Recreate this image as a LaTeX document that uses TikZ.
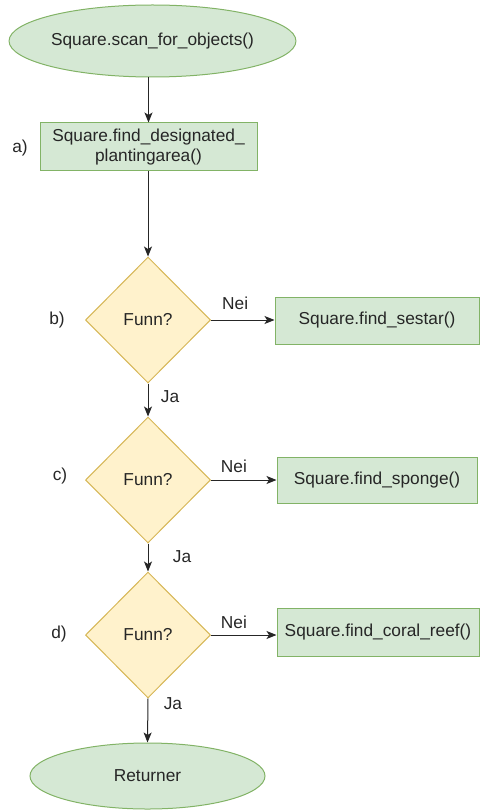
\documentclass[tikz,border=0pt]{standalone}
\usepackage{fontspec}
\setmainfont{Liberation Sans}
\usetikzlibrary{shapes.geometric,arrows.meta}
\definecolor{gfill}{HTML}{D5E8D4}
\definecolor{gdraw}{HTML}{82B366}
\definecolor{yfill}{HTML}{FFF2CC}
\definecolor{ydraw}{HTML}{D6B656}
\definecolor{txt}{HTML}{262626}
\begin{document}
\begin{tikzpicture}[x=1pt,y=-1pt,
  every node/.style={font=\fontsize{17.3}{20.5}\selectfont, text=txt, inner sep=0pt},
  term/.style={ellipse, draw=gdraw, fill=gfill, line width=1pt},
  procbox/.style={rectangle, draw=gdraw, fill=gfill, line width=1pt, align=center},
  decision/.style={diamond, draw=ydraw, fill=yfill, line width=1pt, minimum width=125pt, minimum height=126pt},
  conn/.style={draw=black!85, line width=1pt, -{Stealth[length=10pt,width=8pt,inset=2.5pt]}},
  lbl/.style={}
]
\useasboundingbox (0,0) rectangle (480,810);
\node[term, minimum width=249pt, minimum height=72pt] (start) at (152.5,41) {Square.scan\_for\_objects()};
\node[procbox, minimum width=217pt, minimum height=48pt] (a) at (148.5,147) {Square.find\_designated\_\\plantingarea()};
\node[decision] (b) at (148,320) {Funn?};
\node[procbox, minimum width=204pt, minimum height=47pt] (sestar) at (377,320.5) {Square.find\_sestar()};
\node[decision] (c) at (148,480) {Funn?};
\node[procbox, minimum width=200pt, minimum height=46pt] (sponge) at (377,480) {Square.find\_sponge()};
\node[decision] (d) at (148,635) {Funn?};
\node[procbox, minimum width=202pt, minimum height=48pt] (coral) at (378,632) {Square.find\_coral\_reef()};
\node[term, minimum width=235pt, minimum height=66pt] (ret) at (147.5,776) {Returner};

\node[lbl] (la) at (20,148) {a)};
\node[lbl] (lb) at (57,320) {b)};
\node[lbl] (lc) at (60,476) {c)};
\node[lbl] (ld) at (59,634) {d)};

\draw[conn] (a.north |- start.south) -- (a.north);
\draw[conn] (a.south -| b.north) -- (b.north);
\draw[conn] (b.east) -- (b.east -| sestar.west) node[pos=0.38, yshift=17pt] (nb) {Nei};
\draw[conn] (b.south) -- (c.north) node[pos=0.4, xshift=22pt] (jb) {Ja};
\draw[conn] (c.east) -- (sponge.west) node[pos=0.35, yshift=14pt] (nc) {Nei};
\draw[conn] (c.south) -- (d.north) node[pos=0.48, xshift=34pt] (jc) {Ja};
\draw[conn] (d.east) -- (d.east -| coral.west) node[pos=0.35, yshift=13pt] (nd) {Nei};
\draw[conn] (d.south) -- (ret.north) node[pos=0.12, xshift=25pt] (jd) {Ja};
\end{tikzpicture}
\end{document}
